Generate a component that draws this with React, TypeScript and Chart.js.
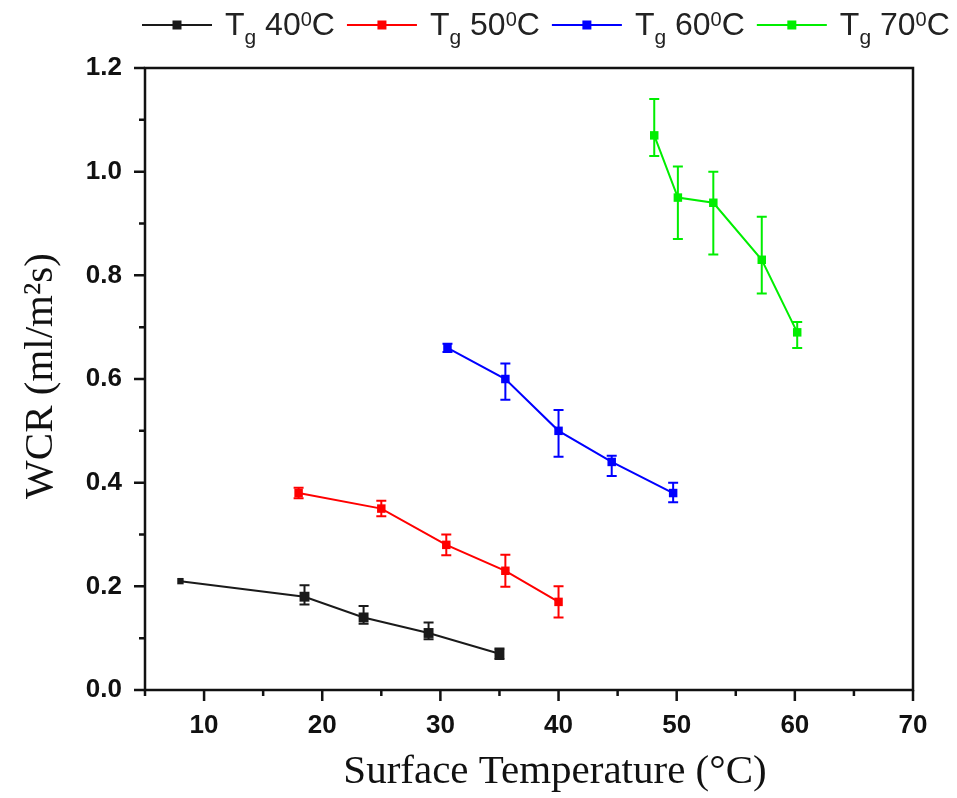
import React, { useEffect, useRef } from 'react';
import { Chart, registerables } from 'chart.js';

Chart.register(...registerables);

// ---- data ----
const seriesNames = ['40', '50', '60', '70'];
const seriesColors = ['#1a1a1a', '#ff0000', '#0000ff', '#00ee00'];

const tempTg40 = [8, 18.5, 23.5, 29, 35];
const wcrTg40 = [0.21, 0.18, 0.14, 0.11, 0.07];
const errUpTg40 = [0, 0.022, 0.022, 0.02, 0.01];
const errDownTg40 = [0, 0.015, 0.012, 0.012, 0.01];

const tempTg50 = [18, 25, 30.5, 35.5, 40];
const wcrTg50 = [0.38, 0.35, 0.28, 0.23, 0.17];
const errUpTg50 = [0.01, 0.015, 0.02, 0.031, 0.03];
const errDownTg50 = [0.01, 0.015, 0.02, 0.031, 0.03];

const tempTg60 = [30.6, 35.5, 40, 44.5, 49.7];
const wcrTg60 = [0.66, 0.6, 0.5, 0.44, 0.38];
const errUpTg60 = [0.008, 0.03, 0.04, 0.012, 0.02];
const errDownTg60 = [0.008, 0.04, 0.05, 0.027, 0.018];

const tempTg70 = [48.1, 50.1, 53.1, 57.2, 60.2];
const wcrTg70 = [1.07, 0.95, 0.94, 0.83, 0.69];
const errUpTg70 = [0.07, 0.06, 0.06, 0.083, 0.02];
const errDownTg70 = [0.04, 0.08, 0.1, 0.065, 0.03];

const xTickValues = [10, 20, 30, 40, 50, 60, 70];
const xMinorTickValues = [5, 15, 25, 35, 45, 55, 65];
const yTickValues = [0, 0.2, 0.4, 0.6, 0.8, 1.0, 1.2];
const yMinorTickValues = [0.1, 0.3, 0.5, 0.7, 0.9, 1.1];

const xTitle = 'Surface Temperature (\u00B0C)';
const yTitle = 'WCR (ml/m\u00B2s)';

const allTemps = [tempTg40, tempTg50, tempTg60, tempTg70];
const allWcr = [wcrTg40, wcrTg50, wcrTg60, wcrTg70];
const allErrUp = [errUpTg40, errUpTg50, errUpTg60, errUpTg70];
const allErrDown = [errDownTg40, errDownTg50, errDownTg60, errDownTg70];

const SANS = '"Liberation Sans", Arial, sans-serif';
const SERIF = '"Liberation Serif", "Times New Roman", serif';

const errorBarPlugin = {
  id: 'errorBars',
  afterDatasetsDraw(chart: any) {
    const { ctx, scales } = chart;
    const x = scales.x;
    const y = scales.y;
    chart.data.datasets.forEach((ds: any, di: number) => {
      const up = allErrUp[di];
      const down = allErrDown[di];
      ctx.save();
      ctx.strokeStyle = ds.borderColor;
      ctx.lineWidth = 2;
      ds.data.forEach((p: any, i: number) => {
        if (!up[i] && !down[i]) return;
        const px = x.getPixelForValue(p.x);
        const pt = y.getPixelForValue(p.y + up[i]);
        const pb = y.getPixelForValue(p.y - down[i]);
        ctx.beginPath();
        ctx.moveTo(px, pt);
        ctx.lineTo(px, pb);
        ctx.moveTo(px - 5, pt);
        ctx.lineTo(px + 5, pt);
        ctx.moveTo(px - 5, pb);
        ctx.lineTo(px + 5, pb);
        ctx.stroke();
      });
      ctx.restore();
    });
  },
};

const framePlugin = {
  id: 'frameAndDecor',
  afterDraw(chart: any) {
    const { ctx, chartArea: a, scales } = chart;
    const x = scales.x;
    const y = scales.y;
    ctx.save();
    ctx.strokeStyle = '#111';
    ctx.lineWidth = 2.5;
    ctx.strokeRect(a.left, a.top, a.right - a.left, a.bottom - a.top);
    ctx.beginPath();
    xTickValues.forEach((v) => {
      const px = x.getPixelForValue(v);
      ctx.moveTo(px, a.bottom);
      ctx.lineTo(px, a.bottom + 11);
    });
    xMinorTickValues.forEach((v) => {
      const px = x.getPixelForValue(v);
      ctx.moveTo(px, a.bottom);
      ctx.lineTo(px, a.bottom + 6);
    });
    yTickValues.forEach((v) => {
      const py = y.getPixelForValue(v);
      ctx.moveTo(a.left - 11, py);
      ctx.lineTo(a.left, py);
    });
    yMinorTickValues.forEach((v) => {
      const py = y.getPixelForValue(v);
      ctx.moveTo(a.left - 6, py);
      ctx.lineTo(a.left, py);
    });
    ctx.stroke();

    // axis titles
    ctx.fillStyle = '#111';
    ctx.font = `41px ${SERIF}`;
    ctx.textAlign = 'center';
    ctx.textBaseline = 'alphabetic';
    ctx.fillText(xTitle, 555, 783);
    ctx.save();
    ctx.translate(52, (a.top + a.bottom) / 2 - 3);
    ctx.rotate(-Math.PI / 2);
    ctx.fillText(yTitle, 0, 0);
    ctx.restore();

    // legend
    let cx = 142;
    const lineY = 25;
    const baseY = 35;
    ctx.textAlign = 'left';
    seriesNames.forEach((name, i) => {
      const col = seriesColors[i];
      ctx.strokeStyle = col;
      ctx.lineWidth = 2;
      ctx.beginPath();
      ctx.moveTo(cx, lineY);
      ctx.lineTo(cx + 70, lineY);
      ctx.stroke();
      ctx.fillStyle = col;
      ctx.fillRect(cx + 35 - 4.5, lineY - 4.5, 9, 9);
      let tx = cx + 83;
      ctx.fillStyle = '#222';
      ctx.font = `32px ${SANS}`;
      ctx.fillText('T', tx, baseY);
      tx += ctx.measureText('T').width;
      ctx.font = `21px ${SANS}`;
      ctx.fillText('g', tx, baseY + 9);
      tx += ctx.measureText('g').width;
      ctx.font = `32px ${SANS}`;
      const num = ' ' + name;
      ctx.fillText(num, tx, baseY);
      tx += ctx.measureText(num).width;
      ctx.font = `20px ${SANS}`;
      ctx.fillText('0', tx, baseY - 9);
      tx += ctx.measureText('0').width;
      ctx.font = `32px ${SANS}`;
      ctx.fillText('C', tx, baseY);
      tx += ctx.measureText('C').width;
      cx = tx + 12;
    });
    ctx.restore();
  },
};

export default function App() {
  const canvasRef = useRef<HTMLCanvasElement | null>(null);

  useEffect(() => {
    document.body.style.margin = '0';
    const canvas = canvasRef.current;
    if (!canvas) return;
    const datasets = seriesNames.map((name, i) => ({
      label: 'Tg ' + name + '\u00B0C',
      data: allTemps[i].map((t, j) => ({ x: t, y: allWcr[i][j] })),
      borderColor: seriesColors[i],
      backgroundColor: seriesColors[i],
      borderWidth: 2,
      pointStyle: 'rect',
      pointRadius: allTemps[i].map((_, j) => (i === 0 ? (j === 0 ? 4.5 : 7) : 6)),
      pointBorderWidth: 0,
      tension: 0,
      fill: false,
      showLine: true,
    }));
    const chart = new Chart(canvas, {
      type: 'scatter',
      data: { datasets },
      options: {
        animation: false,
        responsive: false,
        maintainAspectRatio: false,
        layout: { padding: { top: 68, right: 44, left: 0, bottom: 0 } },
        plugins: { legend: { display: false }, tooltip: { enabled: false } },
        scales: {
          x: {
            type: 'linear',
            min: 5,
            max: 70,
            grid: { display: false, drawTicks: false },
            border: { display: false },
            afterBuildTicks: (s: any) => {
              s.ticks = xTickValues.map((v) => ({ value: v }));
            },
            afterFit: (s: any) => {
              s.height = 108;
            },
            ticks: {
              padding: 20,
              color: '#111',
              font: { family: SANS, size: 26, weight: 'bold' },
              maxRotation: 0,
              autoSkip: false,
            },
          },
          y: {
            type: 'linear',
            min: 0,
            max: 1.2,
            grid: { display: false, drawTicks: false },
            border: { display: false },
            afterBuildTicks: (s: any) => {
              s.ticks = yTickValues.map((v) => ({ value: v }));
            },
            afterFit: (s: any) => {
              s.width = 145;
            },
            ticks: {
              padding: 23,
              color: '#111',
              font: { family: SANS, size: 26, weight: 'bold' },
              autoSkip: false,
              callback: (v: any) => Number(v).toFixed(1),
            },
          },
        },
      },
      plugins: [errorBarPlugin, framePlugin],
    } as any);
    return () => chart.destroy();
  }, []);

  return (
    <div style={{ width: 957, height: 798, background: '#fff' }}>
      <canvas ref={canvasRef} width={957} height={798} style={{ display: 'block' }} />
    </div>
  );
}
